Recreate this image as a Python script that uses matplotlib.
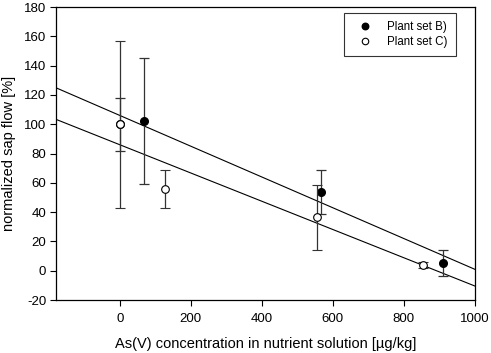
import matplotlib
matplotlib.use("Agg")
import matplotlib.pyplot as plt
import numpy as np

plt.rcParams['font.family'] = ['Liberation Sans', 'DejaVu Sans']
plt.rcParams['axes.unicode_minus'] = False

# Plant set B) (filled)
b_x = [0, 68, 568, 910]
b_y = [100, 102.5, 54, 5.5]
b_err = [18, 43, 15, 9]

# Plant set C) (open)
c_x = [0, 126, 556, 854]
c_y = [100, 56, 36.5, 4]
c_err = [57, 13, 22, 2]

# regression lines (intercept, slope)
b_line = (106.0, -0.105)
c_line = (86.0, -0.0964)

fig = plt.figure(figsize=(4.91, 3.53), dpi=100)
ax = fig.add_axes([0.114, 0.150, 0.853, 0.830])

xl = np.array([-180, 1000])
ax.plot(xl, b_line[0] + b_line[1] * xl, color='black', lw=0.8, zorder=1)
ax.plot(xl, c_line[0] + c_line[1] * xl, color='black', lw=0.8, zorder=1)

ax.errorbar(b_x, b_y, yerr=b_err, fmt='o', color='black', ecolor='#333333',
            elinewidth=0.9, capsize=3.8, capthick=0.9, markersize=5.5,
            mfc='black', mec='black', label='Plant set B)', zorder=2)
ax.errorbar(c_x, c_y, yerr=c_err, fmt='o', color='black', ecolor='#333333',
            elinewidth=0.9, capsize=3.8, capthick=0.9, markersize=5.5,
            mfc='white', mec='black', mew=0.8, label='Plant set C)', zorder=3)

ax.set_xlim(-180, 1000)
ax.set_ylim(-20, 180)
ax.set_xticks([0, 200, 400, 600, 800, 1000])
ax.set_yticks(range(-20, 181, 20))
ax.tick_params(direction='out', length=4, width=0.8, labelsize=9.5, pad=3)
ax.tick_params(axis='x', pad=5)
for s in ax.spines.values():
    s.set_linewidth(0.9)

ax.set_xlabel('As(V) concentration in nutrient solution [µg/kg]', fontsize=10.5, labelpad=9)
ax.set_ylabel('normalized sap flow [%]', fontsize=10.5, labelpad=6)

handles, labels = ax.get_legend_handles_labels()
handles = [h[0] for h in handles]
leg = ax.legend(handles, labels, loc='upper left', mode='expand',
                bbox_to_anchor=(0.688, 0.83, 0.267, 0.151),
                fontsize=8.3, frameon=True, markerscale=0.85,
                fancybox=False, edgecolor='black', borderpad=0.75,
                handlelength=2.2, handletextpad=0.75, labelspacing=0.2,
                borderaxespad=0.0)
leg.get_frame().set_linewidth(0.8)

fig.savefig('out.png', dpi=100)
